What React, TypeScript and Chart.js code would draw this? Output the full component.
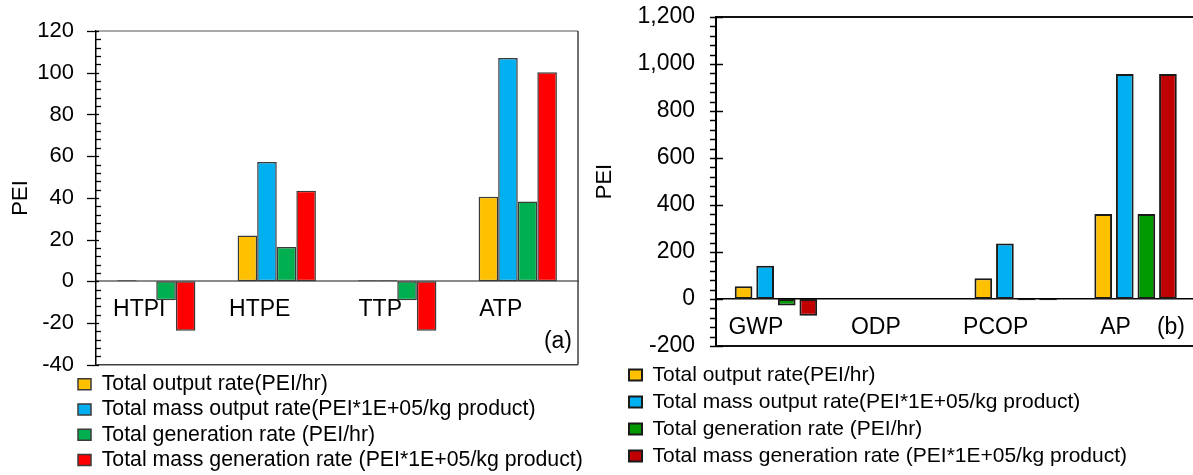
import React, { useEffect, useRef } from 'react';
import { Chart, registerables } from 'chart.js';

Chart.register(...registerables);

const FONT = '"Liberation Sans", Arial, sans-serif';

// ---------- data ----------
const seriesLabels = [
  'Total output rate(PEI/hr)',
  'Total mass output rate(PEI*1E+05/kg product)',
  'Total generation rate (PEI/hr)',
  'Total mass generation rate (PEI*1E+05/kg product)',
];

// Panel (a)
const categoriesA = ['HTPI', 'HTPE', 'TTP', 'ATP'];
const outputRateA = [0.5, 22, 0.5, 40.6];
const massOutputRateA = [0, 57.2, 0.5, 107];
const generationRateA = [-9, 16.5, -9, 38.3];
const massGenerationRateA = [-23.7, 43.4, -23.7, 100.2];
const yRangeA = [-40, 120];
const yStepA = 20;
const yMinorStepA = 4;

// Panel (b)
const categoriesB = ['GWP', 'ODP', 'PCOP', 'AP'];
const outputRateB = [54, 0, 88, 362];
const massOutputRateB = [141, 0, 236, 957];
const generationRateB = [-28, 0, -5, 362];
const massGenerationRateB = [-71, 0, -5, 957];
const yRangeB = [-200, 1200];
const yStepB = 200;
const yMinorStepB = 40;

const colorsA = ['#FFC000', '#00B0F0', '#00B050', '#FF0000'];
const colorsB = ['#FFC000', '#00B0F0', '#009900', '#C00000'];

// ---------- decoration plugin ----------
const decorPlugin: any = {
  id: 'decor',
  afterLayout(chart: any, _args: any, opts: any) {
    const lg = chart.legend;
    if (lg && opts && opts.legendLeft != null) {
      const dx = opts.legendLeft - lg.left;
      lg.left += dx;
      lg.right += dx;
      const dy = opts.legendTop - lg.top;
      lg.top += dy;
      lg.bottom += dy;
    }
  },
  afterDraw(chart: any, _args: any, opts: any) {
    const { ctx, chartArea: ca } = chart;
    const y = chart.scales.y;
    ctx.save();
    // frame (top, right, bottom)
    const f = opts.frame;
    ctx.lineWidth = f.width;
    ctx.strokeStyle = f.top;
    ctx.beginPath();
    ctx.moveTo(ca.left, ca.top);
    ctx.lineTo(ca.right, ca.top);
    ctx.stroke();
    ctx.strokeStyle = f.right;
    ctx.beginPath();
    ctx.moveTo(ca.right, ca.top);
    ctx.lineTo(ca.right, ca.bottom);
    ctx.stroke();
    ctx.strokeStyle = f.bottom;
    ctx.beginPath();
    ctx.moveTo(ca.left, ca.bottom);
    ctx.lineTo(ca.right, ca.bottom);
    ctx.stroke();

    // y-axis major / minor tick marks
    const t = opts.ticks;
    ctx.strokeStyle = t.color;
    ctx.lineWidth = t.width;
    const axisX = ca.left;
    const n = Math.round((y.max - y.min) / t.minorStep);
    for (let i = 0; i <= n; i++) {
      const v = y.min + i * t.minorStep;
      const py = Math.round(y.getPixelForValue(v)) + 0.5;
      const r = v / t.majorStep;
      const major = Math.abs(r - Math.round(r)) < 1e-6;
      ctx.beginPath();
      if (major) {
        ctx.moveTo(axisX + t.majorFrom, py);
        ctx.lineTo(axisX + t.majorTo, py);
      } else {
        ctx.moveTo(axisX + t.minorFrom, py);
        ctx.lineTo(axisX + t.minorTo, py);
      }
      ctx.stroke();
    }

    // panel tag
    ctx.fillStyle = '#000';
    ctx.font = `${opts.tagSize}px ${FONT}`;
    ctx.textAlign = 'right';
    ctx.textBaseline = 'middle';
    ctx.fillText(opts.tag, ca.right - opts.tagRight, ca.bottom - opts.tagBottom);
    ctx.restore();
  },
};

function makeDatasets(series: number[][], colors: string[], border: string, bw: number) {
  return series.map((data, i) => ({
    label: seriesLabels[i],
    data,
    backgroundColor: colors[i],
    borderColor: border,
    borderWidth: bw,
    borderSkipped: false,
  }));
}

function yAxisFit(width: number) {
  return (s: any) => {
    s.width = width;
    s.paddingTop = 0;
    s.paddingBottom = 0;
  };
}

function configA(): any {
  return {
    type: 'bar',
    data: {
      labels: categoriesA,
      datasets: makeDatasets(
        [outputRateA, massOutputRateA, generationRateA, massGenerationRateA],
        colorsA,
        '#3a3a3a',
        1.5
      ),
    },
    options: {
      responsive: false,
      maintainAspectRatio: false,
      animation: false,
      locale: 'en-US',
      layout: { padding: { top: 31, bottom: 4, left: 0, right: 12 } },
      datasets: { bar: { categoryPercentage: 0.65, barPercentage: 1 } },
      scales: {
        x: {
          position: { y: 0 },
          grid: { display: false, drawTicks: false },
          border: { display: true, color: '#8a8a8a', width: 2 },
          ticks: {
            padding: 15,
            labelOffset: -17,
            maxRotation: 0,
            autoSkip: false,
            color: '#000',
            font: { family: FONT, size: 23 },
          },
        },
        y: {
          min: yRangeA[0],
          max: yRangeA[1],
          grid: { display: false, drawTicks: false },
          border: { display: true, color: '#000', width: 1.5 },
          ticks: { stepSize: yStepA, padding: 22, color: '#000', font: { family: FONT, size: 22 } },
          title: {
            display: true,
            text: 'PEI',
            color: '#000',
            font: { family: FONT, size: 22 },
            padding: { top: 8, bottom: 0 },
          },
          afterFit: yAxisFit(96),
        },
      },
      plugins: {
        legend: {
          position: 'bottom',
          align: 'start',
          labels: {
            boxWidth: 13,
            boxHeight: 11,
            padding: 4,
            color: '#000',
            font: { family: FONT, size: 21.3 },
          },
        },
        tooltip: { enabled: false },
        decor: {
          frame: { top: '#8c8c8c', right: '#404040', bottom: '#404040', width: 1.5 },
          ticks: { minorStep: yMinorStepA, majorStep: yStepA, majorFrom: -9, majorTo: 3, minorFrom: 0, minorTo: 5, color: '#000', width: 1.3 },
          tag: '(a)',
          tagSize: 23,
          tagRight: 6,
          tagBottom: 23,
          legendLeft: 74,
          legendTop: 369.5,
        },
      },
    },
    plugins: [decorPlugin],
  };
}

function configB(): any {
  return {
    type: 'bar',
    data: {
      labels: categoriesB,
      datasets: makeDatasets(
        [outputRateB, massOutputRateB, generationRateB, massGenerationRateB],
        colorsB,
        '#1a1a1a',
        2
      ),
    },
    options: {
      responsive: false,
      maintainAspectRatio: false,
      animation: false,
      locale: 'en-US',
      layout: { padding: { top: 17, bottom: 16, left: 0, right: 4.5 } },
      datasets: { bar: { categoryPercentage: 0.72, barPercentage: 0.82 } },
      scales: {
        x: {
          position: { y: 0 },
          grid: { display: false, drawTicks: false },
          border: { display: true, color: '#000', width: 1.5 },
          ticks: {
            padding: 15,
            labelOffset: -20,
            maxRotation: 0,
            autoSkip: false,
            color: '#000',
            font: { family: FONT, size: 23 },
          },
        },
        y: {
          min: yRangeB[0],
          max: yRangeB[1],
          grid: { display: false, drawTicks: false },
          border: { display: true, color: '#000', width: 2 },
          ticks: { stepSize: yStepB, padding: 21, color: '#000', font: { family: FONT, size: 23 } },
          title: {
            display: true,
            text: 'PEI',
            color: '#000',
            font: { family: FONT, size: 22 },
            padding: { top: 2, bottom: 0 },
          },
          afterFit: yAxisFit(126),
        },
      },
      plugins: {
        legend: {
          position: 'bottom',
          align: 'start',
          labels: {
            boxWidth: 13,
            boxHeight: 11,
            padding: 6,
            color: '#000',
            font: { family: FONT, size: 21 },
          },
        },
        tooltip: { enabled: false },
        decor: {
          frame: { top: '#111', right: '#111', bottom: '#111', width: 2 },
          ticks: { minorStep: yMinorStepB, majorStep: yStepB, majorFrom: -6, majorTo: 7, minorFrom: -6, minorTo: 0, color: '#000', width: 1.5 },
          tag: '(b)',
          tagSize: 23,
          tagRight: 10.5,
          tagBottom: 18.3,
          legendLeft: 33,
          legendTop: 358.5,
        },
      },
    },
    plugins: [decorPlugin],
  };
}

function ChartCanvas(props: { make: () => any; left: number; width: number; height: number }) {
  const ref = useRef<HTMLCanvasElement>(null);
  useEffect(() => {
    const chart = new Chart(ref.current as HTMLCanvasElement, props.make());
    return () => chart.destroy();
  }, []);
  return (
    <canvas
      ref={ref}
      width={props.width}
      height={props.height}
      style={{ position: 'absolute', left: props.left, top: 0, width: props.width, height: props.height }}
    />
  );
}

export default function App() {
  return (
    <div
      style={{
        position: 'fixed',
        left: 0,
        top: 0,
        width: 1193,
        height: 475,
        overflow: 'hidden',
        background: '#fff',
      }}
    >
      <ChartCanvas make={configA} left={0} width={590} height={480} />
      <ChartCanvas make={configB} left={590} width={610} height={480} />
    </div>
  );
}
